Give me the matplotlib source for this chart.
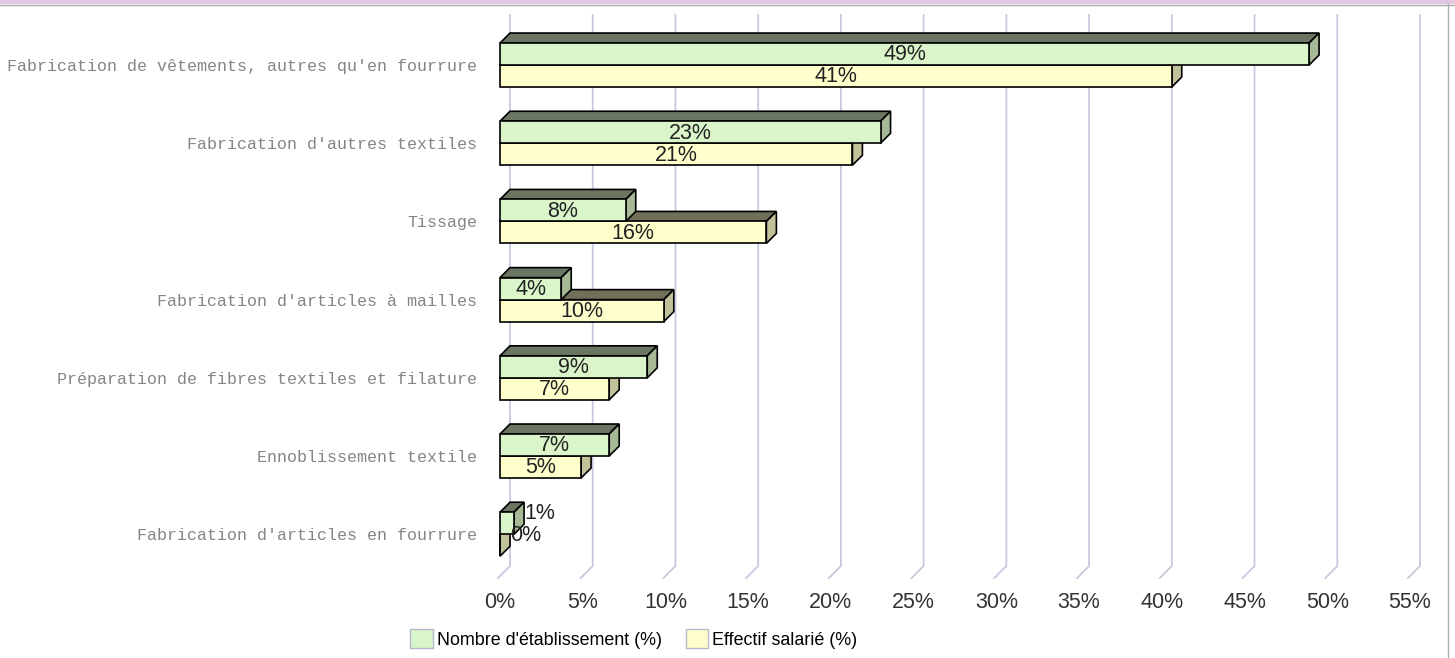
import matplotlib
matplotlib.use("Agg")
import matplotlib.pyplot as plt
from matplotlib.patches import Polygon, Rectangle, Patch
from matplotlib.lines import Line2D

categories = [
    "Fabrication de vêtements, autres qu'en fourrure",
    "Fabrication d'autres textiles",
    "Tissage",
    "Fabrication d'articles à mailles",
    "Préparation de fibres textiles et filature",
    "Ennoblissement textile",
    "Fabrication d'articles en fourrure",
]
etablissements = [48.9, 23.0, 7.6, 3.7, 8.9, 6.6, 0.85]
effectif = [40.6, 21.3, 16.1, 9.9, 6.6, 4.9, 0.0]
xticks = [0, 5, 10, 15, 20, 25, 30, 35, 40, 45, 50, 55]
series_names = ["Nombre d'établissement (%)", "Effectif salarié (%)"]

plt.rcParams["font.family"] = ["Liberation Sans", "DejaVu Sans"]

W, H = 1455, 658
fig = plt.figure(figsize=(W / 100, H / 100), dpi=100)

# plot area in pixels: x 500..1410 (0..55%), y 15..578
ax = fig.add_axes([500 / W, 1 - 578 / H, 910 / W, 563 / H])
ax.set_xlim(0, 55)
ax.set_ylim(6.56, -0.64)
for s in ax.spines.values():
    s.set_visible(False)

px_x = 910 / 55
px_y = 563 / 7.2
DX = 10 / px_x
DY = 10 / px_y
BH = 22 / px_y

# grid lines with 3D floor
for t in xticks:
    ax.plot([t + DX, t + DX, t - 0.12], [-0.64, 6.56 - 12 / px_y, 6.56],
            color="#c8c8e0", lw=1.3, zorder=0, clip_on=False)

green = ("#d9f5c9", "#6a7562", "#a6b896")
yellow = ("#ffffcc", "#707059", "#c2c29a")


def bar3d(y0, length, colors):
    face, top, side = colors
    kw = dict(ec="black", lw=1.2, clip_on=False, zorder=2)
    ax.add_patch(Polygon([(0, y0), (DX, y0 - DY), (length + DX, y0 - DY), (length, y0)],
                         fc=top, **kw))
    ax.add_patch(Polygon([(length, y0), (length + DX, y0 - DY),
                          (length + DX, y0 + BH - DY), (length, y0 + BH)], fc=side, **kw))
    ax.add_patch(Rectangle((0, y0), length, BH, fc=face, **kw))


def value_label(y0, v):
    txt = f"{round(v)}%"
    if v < 2:
        ax.text(v + DX, y0 + BH / 2 - DY, txt, ha="left", va="center",
                fontsize=15.5, color="#222222", zorder=5, clip_on=False)
    else:
        ax.text(v / 2, y0 + BH / 2 + 0.01, txt, ha="center", va="center",
                fontsize=15.5, color="#222222", zorder=5, clip_on=False)


for i in range(len(categories)):
    bar3d(i, effectif[i], yellow)
    bar3d(i - BH, etablissements[i], green)
    value_label(i - BH, etablissements[i])
    value_label(i, effectif[i])

ax.set_xticks(xticks)
ax.set_xticklabels([f"{t}%" for t in xticks], fontsize=15.5, color="#333333")
ax.set_yticks(range(len(categories)))
ax.set_yticklabels(categories, family="Liberation Mono", fontsize=12, color="#858585")
ax.tick_params(axis="x", length=0, pad=10)
ax.tick_params(axis="y", length=0, pad=16.5)

handles = [Patch(fc=green[0], ec="#b8b8cc", lw=1), Patch(fc=yellow[0], ec="#b8b8cc", lw=1)]
fig.legend(handles, series_names, loc="center", bbox_to_anchor=(634 / W, 1 - 639 / H),
           ncol=2, frameon=False, prop={"size": 12.9},
           handlelength=1.25, handleheight=1.25, handletextpad=0.25, columnspacing=1.3)

# page border
fig.add_artist(Rectangle((0, 1 - 4 / H), 1, 4 / H, transform=fig.transFigure,
                         fc="#e2c6e2", ec="none"))
fig.add_artist(Line2D([0, 1], [1 - 4.5 / H] * 2, transform=fig.transFigure,
                      color="#a8a8a8", lw=1))
fig.add_artist(Line2D([1447.5 / W] * 2, [0, 1 - 4 / H], transform=fig.transFigure,
                      color="#b0b0b0", lw=1))

fig.savefig("out.png", dpi=100)
